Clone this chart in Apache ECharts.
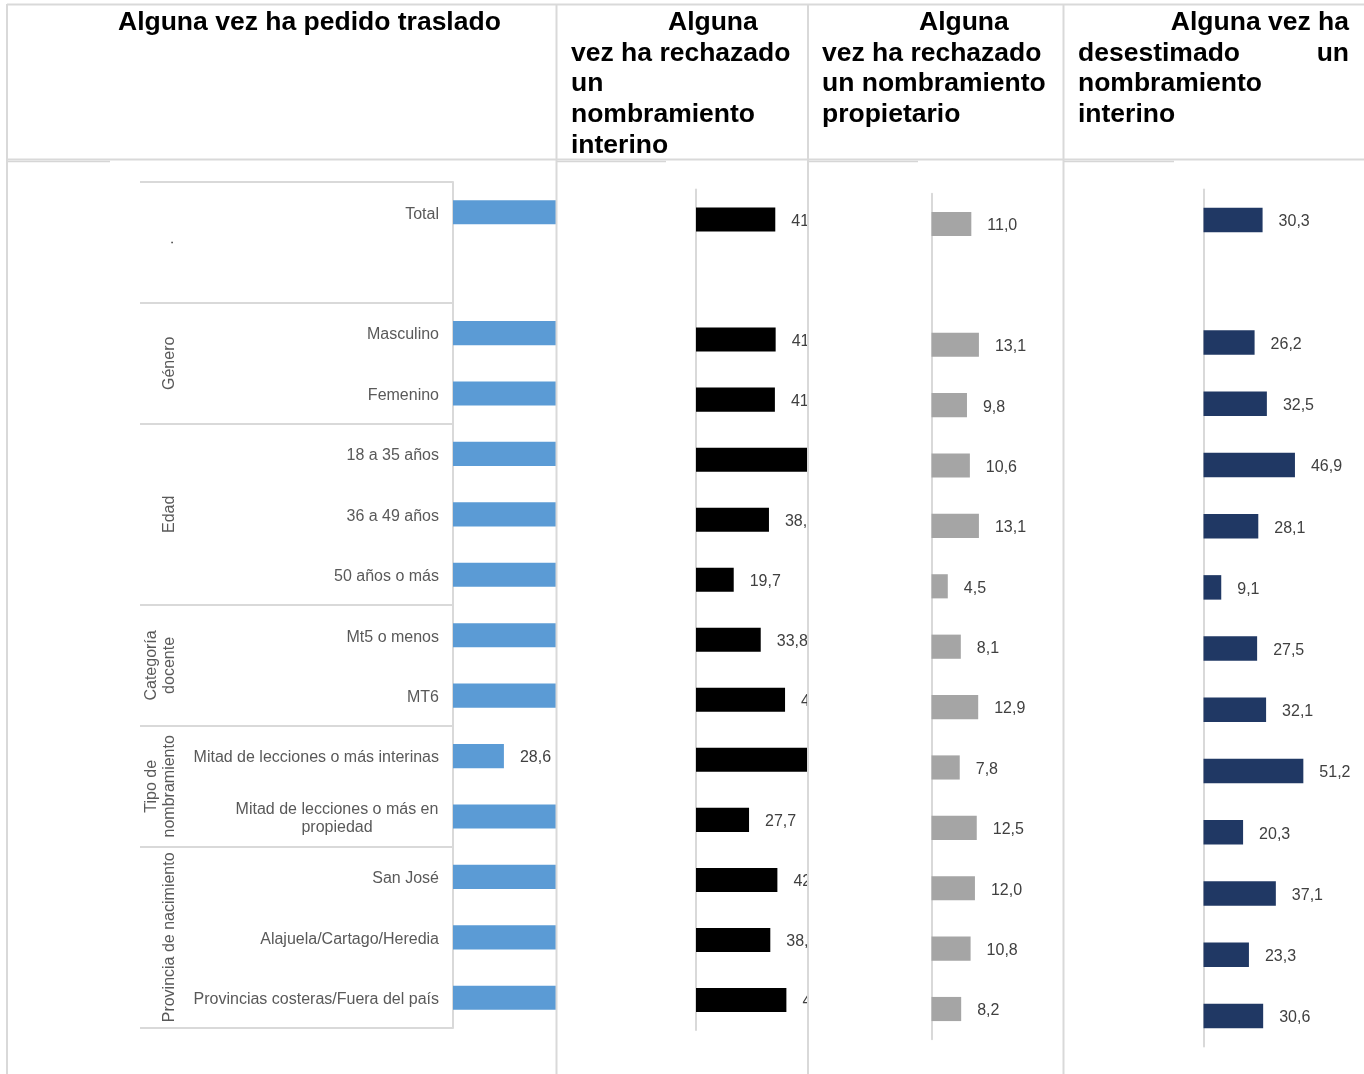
<!DOCTYPE html>
<html>
<head>
<meta charset="utf-8">
<script src="https://cdn.jsdelivr.net/npm/echarts@6/dist/echarts.min.js"></script>
<style>
  html, body { margin: 0; padding: 0; background: #ffffff; }
  #main { width: 1364px; height: 1074px; }
</style>
</head>
<body>
<div id="main"></div>
<script>
// Row categories (the empty slot after "Total" is a spacer row of the Total group)
const categories = [
  'Total', '',
  'Masculino', 'Femenino',
  '18 a 35 años', '36 a 49 años', '50 años o más',
  'Mt5 o menos', 'MT6',
  'Mitad de lecciones o más interinas', 'Mitad de lecciones o más en\npropiedad',
  'San José', 'Alajuela/Cartago/Heredia', 'Provincias costeras/Fuera del país'
];

// Group names with the first and last row index they cover
const groupNames = ['.', 'Género', 'Edad', 'Categoría\ndocente', 'Tipo de\nnombramiento', 'Provincia de nacimiento'];
const groupStart = [0, 2, 4, 7, 9, 11];
const groupEnd = [1, 3, 6, 8, 10, 13];

// Percentages per row (null = spacer row)
const pedidoTraslado     = [68.5, null, 66.0, 69.3, 60.1, 72.4, 74.0, 63.2, 70.8, 28.6, 76.9, 66.5, 69.7, 70.2];
const rechazoInterino    = [41.4, null, 41.6, 41.2, 60.4, 38.1, 19.7, 33.8, 46.5, 59.8, 27.7, 42.5, 38.8, 47.2];
const rechazoPropietario = [11.0, null, 13.1, 9.8, 10.6, 13.1, 4.5, 8.1, 12.9, 7.8, 12.5, 12.0, 10.8, 8.2];
const desestimoInterino  = [30.3, null, 26.2, 32.5, 46.9, 28.1, 9.1, 27.5, 32.1, 51.2, 20.3, 37.1, 23.3, 30.6];

// Column headings, one entry per printed line
const headCol1 = ['Alguna vez ha pedido traslado'];
const headCol2 = ['Alguna', 'vez ha rechazado', 'un', 'nombramiento', 'interino'];
const headCol3 = ['Alguna', 'vez ha rechazado', 'un nombramiento', 'propietario'];
const headCol4 = ['Alguna vez ha', 'desestimado', 'un', 'nombramiento', 'interino'];

const FONT = '"Liberation Sans", Arial, Helvetica, sans-serif';
const LINE = '#d9d9d9';

const panels = [
  { data: pedidoTraslado,     color: '#5b9bd5', grid: { left: 453,    top: 182,   width: 178,   height: 846   }, max: 100, z: 2 },
  { data: rechazoInterino,    color: '#000000', grid: { left: 696,    top: 189.5, width: 191.5, height: 840.5 }, max: 100, z: 4 },
  { data: rechazoPropietario, color: '#a5a5a5', grid: { left: 931.5,  top: 193.8, width: 108.6, height: 845.4 }, max: 30,  z: 6 },
  { data: desestimoInterino,  color: '#203864', grid: { left: 1203.5, top: 189.4, width: 117,   height: 857.2 }, max: 60,  z: 6 }
];

const fmtPct = v => v.toFixed(1).replace('.', ',');

const chart = echarts.init(document.getElementById('main'), null, { renderer: 'canvas' });

const grids = panels.map(p => Object.assign({ containLabel: false, outerBoundsMode: 'none' }, p.grid));
const xAxes = panels.map((p, i) => ({
  type: 'value', gridIndex: i, min: 0, max: p.max, show: false, z: p.z
}));
const yAxes = panels.map((p, i) => ({
  type: 'category', gridIndex: i, data: categories, inverse: true, z: p.z,
  axisLine: { show: true, lineStyle: { color: LINE, width: 2 } },
  axisTick: i === 0
    ? { show: true, length: 313, interval: idx => groupStart.indexOf(idx) >= 0, lineStyle: { color: LINE, width: 2 } }
    : { show: false },
  splitLine: { show: false },
  axisLabel: i === 0 ? {
    show: true, interval: 0, margin: 14, fontSize: 16, fontFamily: FONT, color: '#595959', lineHeight: 18,
    padding: [4, 0, 0, 0],
    formatter: v => v.indexOf('\n') >= 0 ? v.split('\n').map(s => '{c|' + s + '}').join('\n') : v,
    rich: { c: { width: 204, align: 'center', fontSize: 16, fontFamily: FONT, color: '#595959', lineHeight: 18 } }
  } : { show: false }
}));
const series = panels.map((p, i) => ({
  type: 'bar', xAxisIndex: i, yAxisIndex: i, data: p.data, z: p.z,
  barCategoryGap: '60%',
  itemStyle: { color: p.color },
  label: {
    show: true, position: 'right', distance: 16, offset: [0, 2], fontSize: 16, fontFamily: FONT, color: '#404040',
    formatter: prm => fmtPct(prm.value)
  }
}));

// Table rules, headings and masks for the cropped chart cells
const elements = [];
// masks: each chart cell hides what runs past its right border
elements.push({ type: 'rect', silent: true, z: 3, shape: { x: 557, y: 160, width: 807, height: 914 }, style: { fill: '#ffffff' } });
elements.push({ type: 'rect', silent: true, z: 5, shape: { x: 809, y: 160, width: 555, height: 914 }, style: { fill: '#ffffff' } });

function rule(x1, y1, x2, y2, color, w) {
  elements.push({ type: 'line', silent: true, z: 8, shape: { x1, y1, x2, y2 }, style: { stroke: color || LINE, lineWidth: w || 2 } });
}
rule(7, 4.5, 1364, 4.5);
rule(7, 4, 7, 1074);
rule(7, 159.5, 1364, 159.5);
rule(556.5, 4, 556.5, 1074);
rule(808, 4, 808, 1074);
rule(1063.5, 4, 1063.5, 1074);
// pasted-image edges just under the heading row
rule(8, 161.5, 110, 161.5, '#d6d6d6', 1.5);
rule(557, 161.5, 666, 161.5, '#d6d6d6', 1.5);
rule(809, 161.5, 918, 161.5, '#d6d6d6', 1.5);
rule(1064, 161.5, 1174, 161.5, '#d6d6d6', 1.5);

function head(text, x, y, align) {
  elements.push({
    type: 'text', silent: true, z: 8,
    style: { text, x, y, align: align || 'left', verticalAlign: 'middle', font: 'bold 26.5px ' + FONT, fill: '#000000' }
  });
}
const lineY = [23, 54, 84, 115, 146];
head(headCol1[0], 118, lineY[0]);
head(headCol2[0], 668, lineY[0]);
headCol2.slice(1).forEach((t, k) => head(t, 571, lineY[k + 1]));
head(headCol3[0], 919, lineY[0]);
headCol3.slice(1).forEach((t, k) => head(t, 822, lineY[k + 1]));
head(headCol4[0], 1349, lineY[0], 'right');
head(headCol4[1], 1078, lineY[1]);
head(headCol4[2], 1349, lineY[1], 'right');
head(headCol4[3], 1078, lineY[2]);
head(headCol4[4], 1078, lineY[3]);

chart.setOption({
  animation: false,
  backgroundColor: '#ffffff',
  grid: grids,
  xAxis: xAxes,
  yAxis: yAxes,
  series: series,
  graphic: { elements: elements }
});

// Rotated group names, centred on the rows each group spans
groupNames.forEach((name, g) => {
  const yA = chart.convertToPixel({ yAxisIndex: 0 }, groupStart[g]);
  const yB = chart.convertToPixel({ yAxisIndex: 0 }, groupEnd[g]);
  const lines = name.split('\n').length;
  elements.push({
    type: 'text', silent: true, z: 8,
    x: 170 - (lines - 1) * 9 + (name === '.' ? -1 : 0), y: (yA + yB) / 2, rotation: Math.PI / 2,
    style: { text: name, x: 0, y: 0, align: 'center', verticalAlign: 'middle', fontSize: 16, fontFamily: FONT, fill: '#595959', lineHeight: 18 }
  });
});
chart.setOption({ graphic: { elements: elements } }, { replaceMerge: ['graphic'] });
</script>
</body>
</html>
